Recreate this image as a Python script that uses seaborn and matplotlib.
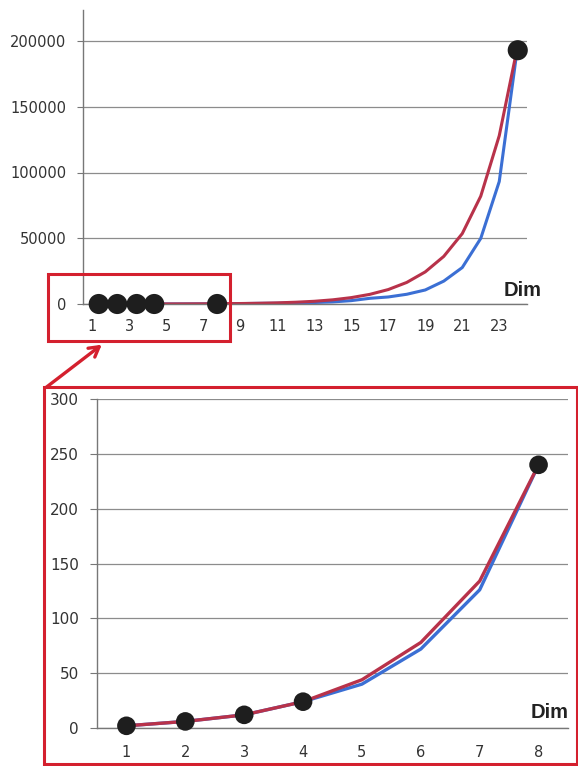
import numpy as np
import pandas as pd
import matplotlib.pyplot as plt
import seaborn as sns
from matplotlib.patches import Rectangle

# Values (two bound curves over Dim)
dims = list(range(1, 25))
upper = [2, 6, 12, 24, 44, 78, 134, 240, 363, 553, 868, 1355, 2064, 3174,
         4853, 7320, 10978, 16406, 24417, 36195, 53524, 82000, 128000, 196560]
lower = [2, 6, 12, 24, 40, 72, 126, 240, 306, 500, 582, 840, 1130, 1582,
         2564, 4320, 5346, 7398, 10668, 17400, 27720, 49896, 93150, 196560]

# black dots (top panel, as drawn)
top_dot_x = [1.35, 2.35, 3.4, 4.35, 7.75, 24]
top_dot_y = [0, 0, 0, 0, 0, 193000]

# zoomed panel
zoom_dims = [1, 2, 3, 4, 5, 6, 7, 8]
zoom_dot_x = [1, 2, 3, 4, 8]
zoom_dot_y = [2, 6, 12, 24, 240]

top_yticks = [0, 50000, 100000, 150000, 200000]
top_xlabels = [1, 3, 5, 7, 9, 11, 13, 15, 17, 19, 21, 23]
zoom_yticks = [0, 50, 100, 150, 200, 250, 300]

df = pd.DataFrame({'Dim': dims, 'upper': upper, 'lower': lower})
dz = df[df['Dim'] <= 8]

sns.set_style("white")
plt.rcParams['font.family'] = ['DejaVu Sans']

RED = '#b8324a'
BLUE = '#3b6fd4'
BOX = '#d4202e'
GRID = '#8c8c8c'
TXT = '#333333'

W, H = 578, 766
fig = plt.figure(figsize=(W / 100, H / 100), dpi=100)


def px(x0, y0, x1, y1):
    # pixel box (top-left origin) -> figure fraction rect
    return [x0 / W, 1 - y1 / H, (x1 - x0) / W, (y1 - y0) / H]


def style_axis(ax):
    for s in ['top', 'right']:
        ax.spines[s].set_visible(False)
    for s in ['left', 'bottom']:
        ax.spines[s].set_color('#777777')
        ax.spines[s].set_linewidth(1.0)
    ax.yaxis.grid(True, color=GRID, lw=0.9)
    ax.set_axisbelow(True)
    ax.set_xlabel('')
    ax.set_ylabel('')
    if ax.get_legend():
        ax.get_legend().remove()


# ---- top panel ----
ax1 = fig.add_axes(px(83, 10, 527, 304))
sns.lineplot(data=df, x='Dim', y='lower', color=BLUE, lw=2.2, ax=ax1)
sns.lineplot(data=df, x='Dim', y='upper', color=RED, lw=2.2, ax=ax1)
sns.scatterplot(x=top_dot_x, y=top_dot_y, color='#1e1e1e', s=210,
                edgecolor='none', zorder=5, ax=ax1, clip_on=False)
ax1.set_xlim(0.5, 24.5)
ax1.set_ylim(0, 200000 * 294 / 263)
ax1.set_yticks(top_yticks)
ax1.set_yticklabels([str(v) for v in top_yticks])
ax1.set_xticks(top_xlabels)
ax1.set_xticklabels([str(v) for v in top_xlabels])
ax1.set_xticks(np.arange(0.5, 25, 1), minor=True)
ax1.tick_params(axis='x', which='major', length=0, pad=11, labelsize=10.5, labelcolor=TXT)
ax1.tick_params(axis='x', which='minor', length=4, width=0.8, color='#777777', direction='out')
ax1.tick_params(axis='y', length=4, width=0.8, color='#777777', pad=8, labelsize=10.5,
                labelcolor=TXT, left=True)
style_axis(ax1)

# ---- zoomed panel ----
ax2 = fig.add_axes(px(97, 399, 568, 728))
sns.lineplot(data=dz, x='Dim', y='lower', color=BLUE, lw=2.4, ax=ax2)
sns.lineplot(data=dz, x='Dim', y='upper', color=RED, lw=2.4, ax=ax2)
sns.scatterplot(x=zoom_dot_x, y=zoom_dot_y, color='#1e1e1e', s=180,
                edgecolor='none', zorder=5, ax=ax2, clip_on=False)
ax2.set_xlim(0.5, 8.5)
ax2.set_ylim(0, 300)
ax2.set_yticks(zoom_yticks)
ax2.set_yticklabels([str(v) for v in zoom_yticks])
ax2.set_xticks(zoom_dims)
ax2.set_xticklabels([str(v) for v in zoom_dims])
ax2.set_xticks(np.arange(0.5, 9, 1), minor=True)
ax2.tick_params(axis='x', which='major', length=0, pad=12, labelsize=10.5, labelcolor=TXT)
ax2.tick_params(axis='x', which='minor', length=5, width=0.8, color='#777777', direction='out')
ax2.tick_params(axis='y', length=5, width=0.8, color='#777777', pad=8, labelsize=11,
                labelcolor=TXT, left=True)
style_axis(ax2)

# axis titles
fig.text(523 / W, 1 - 290 / H, 'Dim', fontsize=14.5, fontweight='bold',
         family='Liberation Sans', ha='center', va='center', color='#222222')
fig.text(550 / W, 1 - 713 / H, 'Dim', fontsize=14.5, fontweight='bold',
         family='Liberation Sans', ha='center', va='center', color='#222222')

# red highlight boxes and arrow
r1 = px(48, 274, 230, 341)
fig.add_artist(Rectangle((r1[0], r1[1]), r1[2], r1[3], transform=fig.transFigure,
                         fill=False, ec=BOX, lw=2.2))
r2 = px(44, 387, 577, 764)
fig.add_artist(Rectangle((r2[0], r2[1]), r2[2], r2[3], transform=fig.transFigure,
                         fill=False, ec=BOX, lw=2.2))
fig.add_artist(plt.Annotation('', xy=(104 / W, 1 - 343 / H), xytext=(44 / W, 1 - 389 / H),
                              xycoords='figure fraction', textcoords='figure fraction',
                              arrowprops=dict(arrowstyle='->,head_length=0.7,head_width=0.4',
                                              color=BOX, lw=2.4)))

fig.savefig('out.png', dpi=100)
